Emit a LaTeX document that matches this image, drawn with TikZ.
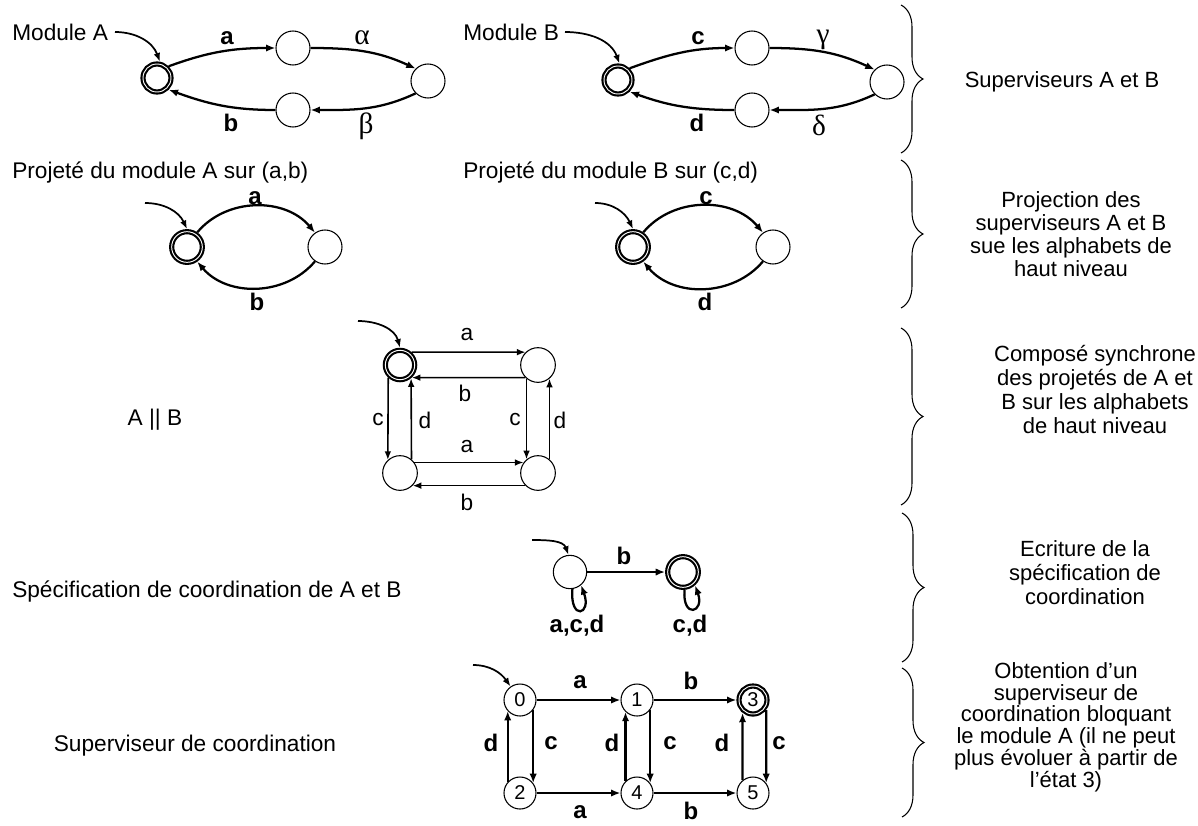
\documentclass[tikz,border=0pt]{standalone}
\usepackage{fontspec}
\setmainfont{Liberation Sans}
\newfontfamily\grk{Liberation Serif}
\usetikzlibrary{arrows.meta,decorations.pathreplacing}
\tikzset{
 st/.style={circle, draw, line width=0.8pt, minimum size=25.5pt, inner sep=0pt},
 ini/.style={circle, draw, line width=1.6pt, double, double distance=0.7pt, minimum size=21pt, inner sep=0pt, outer sep=1.95pt},
 num/.style={circle, draw, line width=0.8pt, minimum size=24pt, inner sep=0pt, font=\fontsize{15}{15}\selectfont},
 numini/.style={ini, minimum size=21pt, font=\fontsize{15}{15}\selectfont},
 tr/.style={-{Latex[length=7pt,width=5.5pt]}, line width=1.7pt},
 trt/.style={-{Latex[length=6.5pt,width=5pt]}, line width=1.2pt},
 initarr/.style={-{Latex[length=6.5pt,width=5pt]}, line width=1.3pt},
 lb/.style={font=\fontsize{18}{18}\selectfont\bfseries, inner sep=0pt},
 lt/.style={font=\fontsize{17}{17}\selectfont, inner sep=0pt},
 gr/.style={font=\fontsize{22}{22}\selectfont\grk, inner sep=0pt},
 title/.style={font=\fontsize{17}{17}\selectfont, inner sep=0pt, anchor=base west},
 side/.style={align=center, inner sep=0pt},
 br/.style={decorate, decoration={brace, amplitude=16.5pt}, line width=0.8pt},
}
\begin{document}
\begin{tikzpicture}[x=0.75pt,y=-0.75pt]
\useasboundingbox (0,0) rectangle (1198,825);

% ---------- Row 1 : Module A ----------
\node[title] (tA) at (12,40) {Module A};
\node[ini] (A0) at (157,78) {};
\node[st] (A1) at (293,48) {};
\node[st] (A2) at (428,81) {};
\node[st] (A3) at (293,110) {};
\coordinate (iA) at (115,32);
\draw[initarr] (iA) to[out=0,in=110] (A0.80);
\draw[tr] (A0.45) to[out=20,in=180] (A1.west) node[lb] at (227,38) {a};
\draw[tr] (A1.east) to[out=0,in=155] (A2.135) node[gr] at (362,38) {α};
\draw[tr] (A2.-135) to[out=-155,in=0] (A3.east) node[gr] at (366,126) {β};
\draw[tr] (A3.west) to[out=180,in=-20] (A0.-45) node[lb] at (231,123) {b};

% ---------- Row 1 : Module B ----------
\node[title] (tB) at (463,40) {Module B};
\node[ini] (B0) at (618,80) {};
\node[st] (B1) at (752,48) {};
\node[st] (B2) at (887,82) {};
\node[st] (B3) at (752,110) {};
\coordinate (iB) at (565,32);
\draw[initarr] (iB) to[out=0,in=110] (B0.85);
\draw[tr] (B0.45) to[out=20,in=180] (B1.west) node[lb] at (698,38) {c};
\draw[tr] (B1.east) to[out=0,in=155] (B2.135) node[gr] at (823,40) {γ};
\draw[tr] (B2.-135) to[out=-155,in=0] (B3.east) node[gr] at (819,125) {δ};
\draw[tr] (B3.west) to[out=180,in=-20] (B0.-45) node[lb] at (697,123) {d};

% ---------- Row 2 : projections ----------
\node[title] (tPA) at (12,178) {Projeté du module A sur (a,b)};
\node[ini, minimum size=23pt] (PA0) at (187,247) {};
\node[st] (PA1) at (325,247) {};
\coordinate (iPA) at (145,203);
\draw[initarr] (iPA) to[out=0,in=115] (PA0.north);
\draw[tr] (PA0.55) to[out=50,in=130] (PA1.125) node[lb] at (255,198) {a};
\draw[tr] (PA1.-125) to[out=-130,in=-50] (PA0.-55) node[lb] at (257,302) {b};

\node[title] (tPB) at (463,178) {Projeté du module B sur (c,d)};
\node[ini, minimum size=23pt] (PB0) at (633,247) {};
\node[st] (PB1) at (773,247) {};
\coordinate (iPB) at (595,203);
\draw[initarr] (iPB) to[out=0,in=115] (PB0.north);
\draw[tr] (PB0.55) to[out=50,in=130] (PB1.125) node[lb] at (706,198) {c};
\draw[tr] (PB1.-125) to[out=-130,in=-50] (PB0.-55) node[lb] at (705,302) {d};

% ---------- Row 3 : A || B ----------
\node[lt] (tAB) at (155,420) {A || B};
\node[ini, minimum size=22pt] (Q0) at (400,365) {};
\node[st, minimum size=26pt] (Q1) at (538,365) {};
\node[st, minimum size=26pt] (Q2) at (400,473) {};
\node[st, minimum size=26pt] (Q3) at (538,473) {};
\coordinate (iQ) at (358,321);
\draw[initarr] (iQ) to[out=0,in=105] (Q0.north);
\draw[trt] (Q0.48) -- (Q1.134) node[lt] at (467,335) {a};
\draw[trt] (Q1.-135) -- (Q0.-47) node[lt] at (465,393) {b};
\draw[trt] (Q0.-133) -- (Q2.133) node[lt] at (378,420) {c};
\draw[trt] (Q2.50) -- (Q0.-50) node[lt] at (425,420) {d};
\draw[trt] (Q1.-130) -- (Q3.130) node[lt] at (515,420) {c};
\draw[trt] (Q3.50) -- (Q1.-50) node[lt] at (560,420) {d};
\draw[trt] (Q2.36) -- (Q3.144) node[lt] at (467,447) {a};
\draw[trt] (Q3.-135) -- (Q2.-45) node[lt] at (467,502) {b};

% ---------- Row 4 : specification ----------
\node[title] (tS) at (12,597) {Spécification de coordination de A et B};
\node[st, minimum size=25pt] (S0) at (570,572) {};
\node[ini, minimum size=23pt] (S1) at (683,572) {};
\coordinate (iS) at (532,540);
\draw[initarr] (iS) to[out=0,in=110] (S0.95);
\draw[tr] (S0.east) -- (S1.west) node[lb] at (624,556) {b};
\draw[tr] (S0.-82) .. controls +(-95:24pt) and +(-70:24pt) .. (S0.-50) node[lb] at (577,626) {a,c,d};
\draw[tr] (S1.-85) .. controls +(-95:22pt) and +(-70:22pt) .. (S1.-48) node[lb] at (690,626) {c,d};

% ---------- Row 5 : coordination supervisor ----------
\node[lt] (tV) at (195,746) {Superviseur de coordination};
\node[num] (V0) at (520,700) {0};
\node[num] (V1) at (637,700) {1};
\node[numini] (V3) at (753,700) {3};
\node[num] (V2) at (520,793) {2};
\node[num] (V4) at (637,793) {4};
\node[num] (V5) at (753,793) {5};
\coordinate (iV) at (473,665);
\draw[initarr] (iV) to[out=0,in=125] (V0.125);
\draw[tr] (V0.east) -- (V1.west) node[lb] at (580,682) {a};
\draw[tr] (V1.east) -- (V3.west) node[lb] at (691,681) {b};
\draw[tr] (V2.east) -- (V4.west) node[lb] at (580,812) {a};
\draw[tr] (V4.east) -- (V5.west) node[lb] at (691,811) {b};
\draw[tr] (V0.-37) -- (V2.37) node[lb] at (551,743) {c};
\draw[tr] (V2.138) -- (V0.-138) node[lb] at (491,743) {d};
\draw[tr] (V1.-37) -- (V4.37) node[lb] at (670,743) {c};
\draw[tr] (V4.134) -- (V1.-134) node[lb] at (612,743) {d};
\draw[tr] (V3.-37) -- (V5.37) node[lb] at (779,743) {c};
\draw[tr] (V5.129) -- (V3.-129) node[lb] at (722,743) {d};

% ---------- Braces and side texts ----------
\draw[br] (901,5) -- (901,153);
\draw[br] (901,160) -- (901,308);
\draw[br] (901,328) -- (901,505);
\draw[br] (902,513) -- (902,662);
\draw[br] (902,668) -- (902,817);

\node[side, font=\fontsize{16.5}{17}\selectfont] (x1) at (1062,82) {Superviseurs A et B};
\node[side, font=\fontsize{16.5}{17.2}\selectfont] (x2) at (1071,234) {Projection des\\superviseurs A et B\\sue les alphabets de\\haut niveau};
\node[side, font=\fontsize{16.5}{18}\selectfont] (x3) at (1095,389) {Composé synchrone\\des projetés de A et\\B sur les alphabets\\de haut niveau};
\node[side, font=\fontsize{16.5}{18}\selectfont] (x4) at (1085,573) {Ecriture de la\\spécification de\\coordination};
\node[side, font=\fontsize{16.5}{16.3}\selectfont] (x5) at (1066,727) {Obtention d’un\\superviseur de\\coordination bloquant\\le module A (il ne peut\\plus évoluer à partir de\\l’état 3)};
\end{tikzpicture}
\end{document}
